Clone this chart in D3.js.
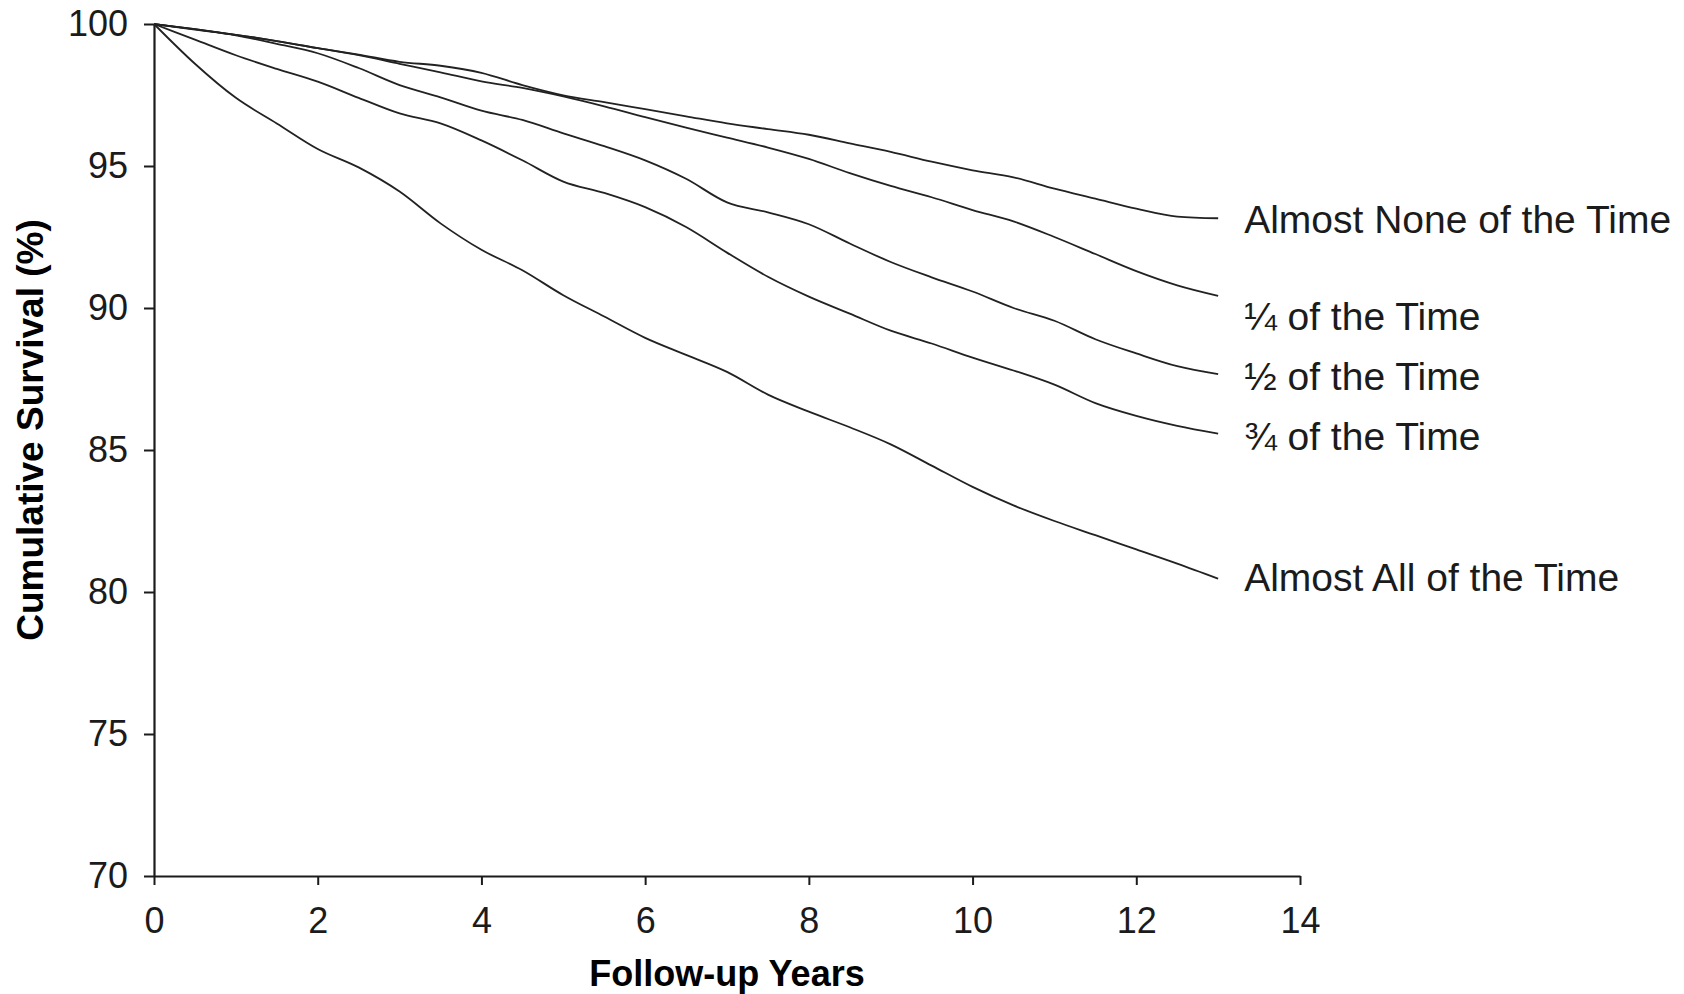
<!DOCTYPE html>
<html>
<head>
<meta charset="utf-8">
<script src="https://cdn.jsdelivr.net/npm/d3@7"></script>
<style>
  html, body { margin: 0; padding: 0; background: #fff; }
  svg { display: block; }
</style>
</head>
<body>
<svg id="chart" width="1684" height="994"></svg>
<script>
// ---- data ----
const years = [0, 0.5, 1, 1.5, 2, 2.5, 3, 3.5, 4, 4.5, 5, 5.5, 6, 6.5, 7, 7.5, 8, 8.5, 9, 9.5, 10, 10.5, 11, 11.5, 12, 12.5, 13];
const seriesNames = ["Almost None of the Time", "\u00BC of the Time", "\u00BD of the Time", "\u00BE of the Time", "Almost All of the Time"];
const almostNone = [100, 99.82, 99.62, 99.4, 99.15, 98.92, 98.67, 98.53, 98.28, 97.85, 97.49, 97.25, 97.0, 96.75, 96.5, 96.3, 96.1, 95.8, 95.5, 95.15, 94.85, 94.6, 94.2, 93.85, 93.5, 93.22, 93.16];
const quarter    = [100, 99.82, 99.62, 99.4, 99.15, 98.9, 98.6, 98.3, 97.98, 97.75, 97.45, 97.1, 96.72, 96.35, 96.0, 95.65, 95.25, 94.75, 94.3, 93.9, 93.45, 93.05, 92.5, 91.9, 91.3, 90.8, 90.43];
const half       = [100, 99.8, 99.6, 99.3, 98.97, 98.45, 97.85, 97.42, 96.95, 96.62, 96.15, 95.7, 95.2, 94.55, 93.72, 93.37, 92.95, 92.27, 91.62, 91.08, 90.58, 90.0, 89.55, 88.9, 88.4, 87.95, 87.67];
const threeQuarter = [100, 99.45, 98.9, 98.42, 97.97, 97.4, 96.85, 96.5, 95.9, 95.2, 94.45, 94.05, 93.55, 92.85, 91.95, 91.1, 90.4, 89.8, 89.2, 88.75, 88.25, 87.8, 87.3, 86.65, 86.2, 85.85, 85.58];
const almostAll  = [100, 98.6, 97.4, 96.5, 95.6, 94.95, 94.1, 92.98, 92.05, 91.33, 90.45, 89.7, 88.95, 88.35, 87.75, 86.95, 86.35, 85.8, 85.2, 84.45, 83.7, 83.05, 82.5, 82.0, 81.5, 81.0, 80.47];
const xTicks = [0, 2, 4, 6, 8, 10, 12, 14];
const yTicks = [70, 75, 80, 85, 90, 95, 100];
const xTitle = "Follow-up Years";
const yTitle = "Cumulative Survival (%)";

const seriesValues = [almostNone, quarter, half, threeQuarter, almostAll];

// ---- layout ----
const mLeft = 154, mTop = 24, plotW = 1146, plotH = 852;
const labelNudge = [1, 21, 2, 3, -1];
const ink = "#1b1b1b";

const svg = d3.select("#chart");
const x = d3.scaleLinear().domain([0, 14]).range([mLeft, mLeft + plotW]);
const y = d3.scaleLinear().domain([70, 100]).range([mTop + plotH, mTop]);

// axes
const xAxis = svg.append("g")
  .attr("transform", `translate(0,${mTop + plotH})`)
  .call(d3.axisBottom(x).tickValues(xTicks).tickFormat(d3.format("d")).tickSize(9).tickSizeOuter(0).tickPadding(22));
const yAxis = svg.append("g")
  .attr("transform", `translate(${mLeft},0)`)
  .call(d3.axisLeft(y).tickValues(yTicks).tickFormat(d3.format("d")).tickSize(10).tickSizeOuter(0).tickPadding(16));

[xAxis, yAxis].forEach(g => {
  g.select(".domain").attr("stroke", ink).attr("stroke-width", 2.2);
  g.selectAll(".tick line").attr("stroke", ink).attr("stroke-width", 2);
  g.selectAll(".tick text")
    .attr("fill", ink)
    .style("font-family", "'Liberation Sans', Arial, sans-serif")
    .style("font-size", "36px");
});

// lines
const line = d3.line()
  .x((d, i) => x(years[i]))
  .y(d => y(d))
  .curve(d3.curveMonotoneX);

svg.append("g").selectAll("path")
  .data(seriesValues)
  .join("path")
  .attr("d", d => line(d))
  .attr("fill", "none")
  .attr("stroke", "#222")
  .attr("stroke-width", 1.8);

// series labels
svg.append("g").selectAll("text")
  .data(seriesValues)
  .join("text")
  .attr("x", x(13) + 26)
  .attr("y", (d, i) => y(d[d.length - 1]) + labelNudge[i])
  .attr("dy", "0.35em")
  .attr("fill", ink)
  .style("font-family", "'Liberation Sans', Arial, sans-serif")
  .style("font-size", "39px")
  .text((d, i) => seriesNames[i]);

// axis titles
svg.append("text")
  .attr("x", x(7))
  .attr("y", 986)
  .attr("text-anchor", "middle")
  .attr("fill", "#000")
  .style("font-family", "'Liberation Sans', Arial, sans-serif")
  .style("font-weight", "bold")
  .style("font-size", "36px")
  .text(xTitle);

svg.append("text")
  .attr("transform", `translate(43,${430}) rotate(-90)`)
  .attr("text-anchor", "middle")
  .attr("fill", "#000")
  .style("font-family", "'Liberation Sans', Arial, sans-serif")
  .style("font-weight", "bold")
  .style("font-size", "37px")
  .text(yTitle);
</script>
</body>
</html>
